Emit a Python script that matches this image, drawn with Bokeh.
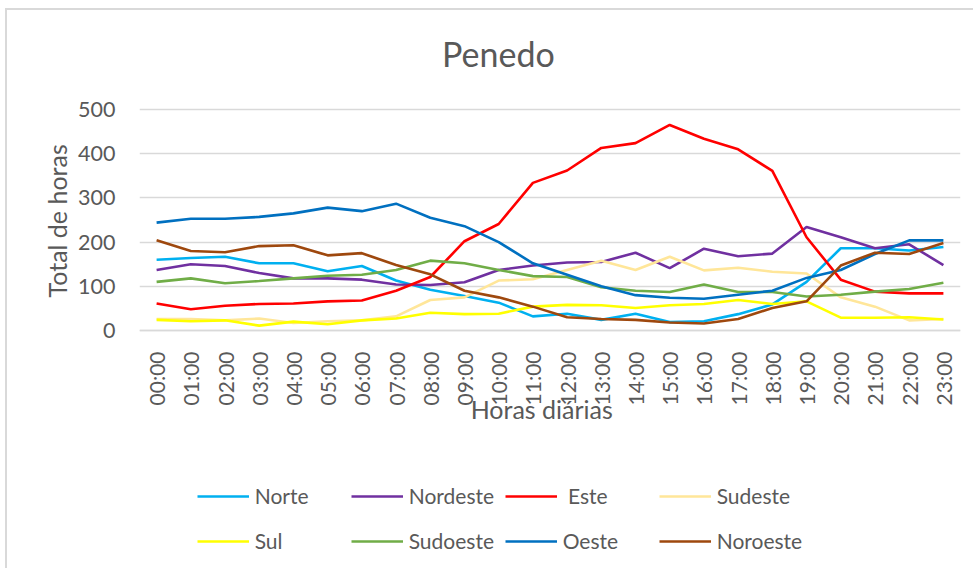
import math
from bokeh.plotting import figure
from bokeh.models import Range1d, FixedTicker, Legend, LegendItem, Title, Label
from bokeh.embed import file_html
from bokeh.resources import INLINE

hours = list(range(24))
hour_labels = ["00:00", "01:00", "02:00", "03:00", "04:00", "05:00", "06:00", "07:00",
               "08:00", "09:00", "10:00", "11:00", "12:00", "13:00", "14:00", "15:00",
               "16:00", "17:00", "18:00", "19:00", "20:00", "21:00", "22:00", "23:00"]

norte = [160, 164, 167, 152, 152, 134, 146, 113, 92, 78, 63, 32, 38, 24, 38, 19, 21, 37, 59, 110, 186, 186, 181, 189]
nordeste = [137, 150, 146, 130, 118, 118, 115, 104, 103, 109, 137, 147, 154, 155, 176, 141, 185, 168, 174, 234, 211, 186, 195, 148]
este = [61, 48, 56, 60, 61, 66, 68, 90, 121, 202, 241, 334, 362, 413, 424, 465, 434, 410, 361, 211, 115, 88, 84, 84]
sudeste = [26, 26, 23, 27, 17, 21, 23, 32, 69, 75, 113, 116, 137, 158, 137, 167, 136, 142, 133, 129, 75, 54, 23, 26]
sul = [24, 21, 23, 11, 20, 14, 23, 27, 40, 37, 38, 54, 58, 57, 51, 57, 60, 69, 60, 66, 29, 29, 30, 25]
sudoeste = [110, 118, 107, 112, 118, 124, 126, 137, 158, 152, 137, 123, 121, 98, 90, 87, 104, 87, 87, 77, 81, 88, 94, 108]
oeste = [244, 253, 253, 257, 265, 278, 270, 287, 255, 236, 200, 152, 126, 100, 80, 74, 72, 81, 90, 119, 137, 173, 204, 204]
noroeste = [204, 180, 177, 191, 193, 170, 175, 148, 127, 90, 75, 54, 30, 26, 24, 18, 16, 26, 51, 66, 147, 176, 173, 198]

series_names = ["Norte", "Nordeste", " Este", "Sudeste", "Sul", "Sudoeste", "Oeste", "Noroeste"]
series_values = [norte, nordeste, este, sudeste, sul, sudoeste, oeste, noroeste]
series_colors = ["#00b0f0", "#7030a0", "#ff0000", "#ffe699", "#ffff00", "#70ad47", "#0070c0", "#9e480e"]

y_ticks = [0, 100, 200, 300, 400, 500]

FONT = "Lato"
TXT = "#595959"
GRID = "#d9d9d9"

# the frame covers the whole chart area vertically so that the title, the x-axis
# title and the legend (all inside the frame) are not clipped
p = figure(width=968, height=560, output_backend="svg", toolbar_location=None,
           x_range=Range1d(-0.5, 23.5), y_range=Range1d(-543, 724),
           min_border_left=132, min_border_right=15, min_border_top=0, min_border_bottom=0,
           title=None)
p.styles = {"margin-left": "5px", "margin-top": "8px",
            "border-left": "2px solid #d9d9d9", "border-top": "2px solid #d9d9d9"}
p.outline_line_color = None

p.xaxis.fixed_location = 0
p.xaxis.ticker = FixedTicker(ticks=hours)
p.xaxis.major_label_overrides = {h: lab for h, lab in zip(hours, hour_labels)}
p.xaxis.major_label_orientation = math.pi / 2
p.xaxis.major_tick_line_color = None
p.xaxis.minor_tick_line_color = None
p.xaxis.axis_line_color = GRID
p.xaxis.axis_line_width = 1.3
p.xaxis.major_label_standoff = 15
p.xaxis.major_label_text_font = FONT
p.xaxis.major_label_text_font_size = "21px"
p.xaxis.major_label_text_color = TXT

p.yaxis.ticker = FixedTicker(ticks=y_ticks)
p.yaxis.major_tick_line_color = None
p.yaxis.minor_tick_line_color = None
p.yaxis.axis_line_color = None
p.yaxis.major_label_standoff = 18
p.yaxis.major_label_text_font = FONT
p.yaxis.major_label_text_font_size = "21.5px"
p.yaxis.major_label_text_color = TXT

p.xgrid.grid_line_color = None
p.ygrid.grid_line_color = GRID
p.ygrid.grid_line_width = 1.3

items = []
for name, vals, col in zip(series_names, series_values, series_colors):
    r = p.line(hours, vals, line_color=col, line_width=2.6)
    items.append(LegendItem(label=name, renderers=[r]))

p.add_layout(Label(x=9.99, y=627, text="Penedo", text_align="center", text_baseline="alphabetic",
                   text_font=FONT, text_font_size="34px", text_color=TXT))
p.add_layout(Title(text="Total de horas", align="left", offset=273, standoff=8,
                   text_font=FONT, text_font_size="25px", text_font_style="normal",
                   text_color=TXT), "left")
p.add_layout(Label(x=9.18, y=-176.5, text="Horas diárias", text_align="left", text_baseline="middle",
                   text_font=FONT, text_font_size="25px", text_color=TXT))

legend = Legend(items=items, orientation="horizontal", ncols=4,
                location=(57.7, 9.5), padding=0, margin=0, spacing=5,
                glyph_width=52, glyph_height=40, label_height=40, label_width=91,
                label_standoff=6, border_line_color=None, background_fill_alpha=0,
                label_text_font=FONT, label_text_font_size="21px", label_text_color=TXT)
p.add_layout(legend, "center")

open("out.html", "w").write(file_html(p, INLINE))
